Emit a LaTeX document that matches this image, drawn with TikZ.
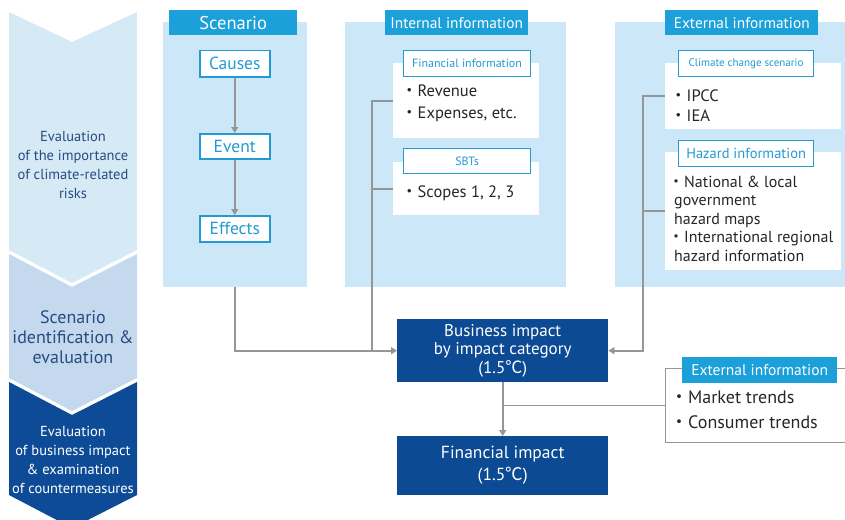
\documentclass[tikz,border=0pt]{standalone}
\usepackage{fontspec}
\setmainfont{PT Sans}
\newfontfamily\cjk{Noto Sans CJK JP}
\usetikzlibrary{arrows.meta}
\definecolor{chevA}{RGB}{214,234,246}
\definecolor{chevB}{RGB}{197,217,238}
\definecolor{chevC}{RGB}{13,75,150}
\definecolor{chevtext}{RGB}{40,75,130}
\definecolor{panelblue}{RGB}{204,232,248}
\definecolor{hdrblue}{RGB}{27,160,217}
\definecolor{subcyan}{RGB}{35,155,210}
\definecolor{boxnavy}{RGB}{12,74,148}
\definecolor{linegray}{RGB}{150,150,150}
\newcommand{\pt}{{\cjk ・}}
\newcommand{\degc}{{\cjk ℃}}
\begin{document}
\begin{tikzpicture}[x=1pt,y=-1pt,
    panel/.style={fill=panelblue, anchor=north west, inner sep=0},
    header/.style={fill=hdrblue, text=white, anchor=north west, inner sep=0,
        font=\fontsize{15.4}{17}\selectfont},
    stepbox/.style={draw=subcyan, line width=1.5pt, fill=white, text=subcyan,
        anchor=north west, inner sep=0, font=\fontsize{17.5}{19}\selectfont},
    subhead/.style={draw=subcyan, line width=1.2pt, fill=white, text=subcyan,
        anchor=north west, inner sep=0, font=\fontsize{12}{14}\selectfont},
    listbox/.style={fill=white, anchor=north west, inner sep=0},
    listtext/.style={anchor=north west, inner sep=0, align=left, text=black!85},
    impact/.style={fill=boxnavy, text=white, anchor=north west, inner sep=0,
        align=center},
    chevtxt/.style={align=center, inner sep=0},
    link/.style={draw=linegray, line width=1.6pt},
    flow/.style={link, -{Triangle[length=6pt,width=7pt]}}]
\useasboundingbox (0,0) rectangle (845,519);
% left chevrons
\fill[chevA] (9,12) -- (72,42) -- (137,12) -- (137,250) -- (72,283) -- (9,250) -- cycle;
\fill[chevB] (9,254) -- (72,287) -- (137,254) -- (137,378) -- (72,411) -- (9,378) -- cycle;
\begin{scope}
\clip (0,0) rectangle (845,519);
\fill[chevC] (9,382) -- (72,415) -- (137,382) -- (137,495) -- (72,528) -- (9,495) -- cycle;
\end{scope}
\node (stage1) [chevtxt, text=chevtext, font=\fontsize{14.5}{18.7}\selectfont] at (73,165)
    {Evaluation\\of the importance\\of climate-related\\risks};
\node (stage2) [chevtxt, text=chevtext, font=\fontsize{18}{20}\selectfont] at (73,337)
    {Scenario\\identification \&\\evaluation};
\node (stage3) [chevtxt, text=white, font=\fontsize{14.5}{19}\selectfont] at (73,460)
    {Evaluation\\of business impact\\\& examination\\of countermeasures};

% scenario
\node (scen) [panel, minimum width=144, minimum height=265] at (163,22) {};
\node (scenhd) [header, minimum width=128, minimum height=25,
    font=\fontsize{18.5}{20}\selectfont] at (169,10) {Scenario};
\node (causes) [stepbox, minimum width=70, minimum height=26] at (199,50) {Causes};
\node (event) [stepbox, minimum width=70, minimum height=25] at (199,133) {Event};
\node (effects) [stepbox, minimum width=70, minimum height=26] at (199,215) {Effects};
\draw[flow] (causes) -- (event);
\draw[flow] (event) -- (effects);

% internal information
\node (intl) [panel, minimum width=221, minimum height=265] at (345,22) {};
\node (intlhd) [header, minimum width=143, minimum height=25] at (385,10) {Internal information};
\node (finbox) [listbox, minimum width=146, minimum height=75] at (393,63) {};
\node (finhd) [subhead, minimum width=127, minimum height=26] at (403,50) {Financial information};
\node (finlist) [listtext, font=\fontsize{16.5}{22}\selectfont] at (401,85)
    {\pt Revenue\\\pt Expenses, etc.};
\node (sbtbox) [listbox, minimum width=146, minimum height=53] at (393,162) {};
\node (sbthd) [subhead, minimum width=127, minimum height=25] at (403,148) {SBTs};
\node (sbtlist) [listtext, font=\fontsize{16.5}{22}\selectfont] at (401,186)
    {\pt Scopes 1, 2, 3};

% external information
\node (extl) [panel, minimum width=235, minimum height=265] at (615,22) {};
\node (extlhd) [header, minimum width=153, minimum height=25] at (665,10) {External information};
\node (climbox) [listbox, minimum width=176, minimum height=66] at (665,63) {};
\node (climhd) [subhead, minimum width=135, minimum height=26,
    font=\fontsize{11}{13}\selectfont] at (678,50) {Climate change scenario};
\node (climlist) [listtext, font=\fontsize{16.5}{20}\selectfont] at (670,90)
    {\pt IPCC\\\pt IEA};
\node (hazbox) [listbox, minimum width=176, minimum height=118] at (665,152) {};
\node (hazhd) [subhead, minimum width=135, minimum height=26,
    font=\fontsize{14.5}{16}\selectfont] at (678,140) {Hazard information};
\node (hazlist) [listtext, font=\fontsize{16}{18.4}\selectfont] at (668,176)
    {\pt National \& local\\\hspace*{6pt}government\\\hspace*{6pt}hazard maps\\%
     \pt International regional\\\hspace*{6pt}hazard information};

% impacts
\node (biz) [impact, minimum width=211, minimum height=63,
    font=\fontsize{17}{18.5}\selectfont] at (397,319)
    {Business impact\\by impact category\\(1.5\degc)};
\node (fin) [impact, minimum width=211, minimum height=59,
    font=\fontsize{17.5}{22}\selectfont] at (397,436)
    {Financial impact\\(1.5\degc)};
\node (mkt) [draw=linegray, line width=1.2pt, anchor=north west, inner sep=0,
    minimum width=200, minimum height=74] at (665,368) {};
\node (mkthd) [header, minimum width=155, minimum height=26,
    font=\fontsize{15.5}{17}\selectfont] at (682,357) {External information};
\node (mktlist) [listtext, font=\fontsize{18}{25}\selectfont] at (670,391)
    {\pt Market trends\\\pt Consumer trends};

% connectors
\draw[flow] (scen.south) |- (biz.west);
\draw[link] (finbox.west) -- ++(-21,0) coordinate (intlbus) -- (intlbus |- biz.west);
\draw[link] (sbtbox.west) -- (sbtbox.west -| intlbus);
\draw[flow] (climbox.west) -- ++(-22,0) coordinate (extlbus) |- (biz.east);
\draw[link] (hazbox.west) -- (hazbox.west -| extlbus);
\draw[flow] (biz) -- (fin);
\draw[link] (mkt.west) -- (mkt.west -| biz.south);
\end{tikzpicture}
\end{document}
